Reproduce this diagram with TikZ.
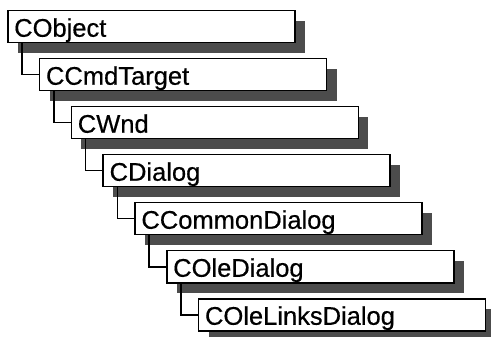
\documentclass[tikz,border=0pt]{standalone}
\usepackage{fontspec}
\newfontfamily\boxfont[FakeBold=0.5]{Liberation Sans}
\usetikzlibrary{shadows}
\definecolor{shadowgray}{gray}{0.3}
\tikzset{
  x=1pt, y=-1pt,
  classbox/.style={
    draw=black, line width=1.5pt, fill=white,
    anchor=north west,
    minimum width=287pt, minimum height=32pt,
    text width=274pt, inner xsep=6.5pt, inner ysep=0pt,
    text height=22pt, text depth=2pt, align=left,
    font=\boxfont\fontsize{25.5}{25.5}\selectfont,
    general shadow={shadow xshift=10pt, shadow yshift=-10pt,
                    fill=shadowgray, draw=none}
  },
  link/.style={draw=black, line width=1.5pt}
}
\begin{document}
\begin{tikzpicture}
  \useasboundingbox (0,0) rectangle (491,337);
  % class hierarchy, one box per level
  \node[classbox] (b0) at (7,10)      {CObject};
  \node[classbox] (b1) at (38.8,58)   {CCmdTarget};
  \node[classbox] (b2) at (70.6,106)  {CWnd};
  \node[classbox] (b3) at (102.4,154) {CDialog};
  \node[classbox] (b4) at (134.2,202) {CCommonDialog};
  \node[classbox] (b5) at (166,250)   {COleDialog};
  \node[classbox] (b6) at (197.8,298) {COleLinksDialog};
  % inheritance links
  \draw[link] ([xshift=15pt]b0.south west) |- (b1.west);
  \draw[link] ([xshift=15pt]b1.south west) |- (b2.west);
  \draw[link] ([xshift=15pt]b2.south west) |- (b3.west);
  \draw[link] ([xshift=15pt]b3.south west) |- (b4.west);
  \draw[link] ([xshift=15pt]b4.south west) |- (b5.west);
  \draw[link] ([xshift=15pt]b5.south west) |- (b6.west);
\end{tikzpicture}
\end{document}
